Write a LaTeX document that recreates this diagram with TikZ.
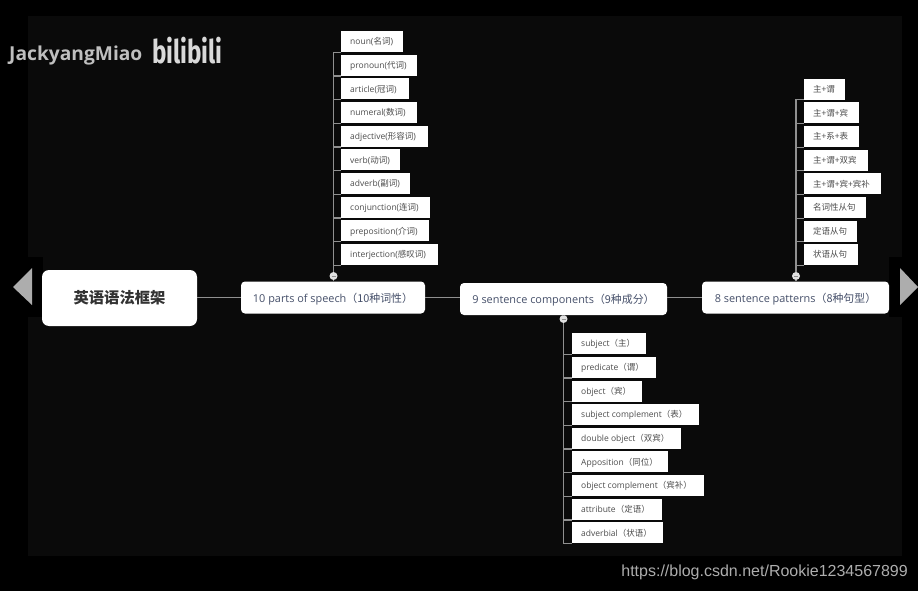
\documentclass[tikz,border=0pt]{standalone}
\usepackage{fontspec}
\setmainfont{Open Sans}
\newfontfamily\cjk{Noto Sans CJK SC}
\newfontfamily\urlfont{Liberation Sans}
\newfontfamily\brandfont{Fira Sans}
\newcommand\zh[1]{{\cjk #1}}
\definecolor{pagebg}{HTML}{000000}
\definecolor{panelbg}{HTML}{0A0A0A}
\definecolor{linkgrey}{HTML}{909090}
\definecolor{leaftext}{HTML}{4C4C4C}
\definecolor{maintext}{HTML}{46506A}
\tikzset{
  leafbox/.style={fill=white,draw=none,inner xsep=9pt,inner ysep=0pt,minimum height=21pt,anchor=north west,text=leaftext,font=\fontsize{8.5}{10}\selectfont},
  mainbox/.style={fill=white,draw=none,rounded corners=4pt,inner sep=0pt,text=maintext,font=\fontsize{10.9}{12}\selectfont},
  link/.style={draw=linkgrey,line width=1.2pt},
  dotnode/.style={circle,fill=white!88!black,draw=none,minimum size=8pt,inner sep=0pt},
  navarrow/.style={fill=white!68!black,draw=none}
}
\newcommand\dn[2]{\raisebox{-#1pt}[0pt][0pt]{#2}}
\begin{document}
\begin{tikzpicture}[x=1pt,y=-1pt]
\useasboundingbox (0,0) rectangle (918,591);
\fill[pagebg] (0,0) rectangle (918,591);
\fill[panelbg] (28,16) rectangle (902,556);
\fill[pagebg] (0,257) rectangle (43,317);
\fill[pagebg] (889,257) rectangle (918,317);
% navigation arrows
\fill[navarrow] (13,287) -- (32,268) -- (32,305) -- cycle;
\fill[navarrow] (918,287) -- (900,268) -- (900,305) -- cycle;
% main nodes
\node[mainbox,minimum width=155pt,minimum height=56pt,rounded corners=7pt,text=black!80,font=\cjk\fontsize{15.3}{17}\selectfont\bfseries] (root) at (119.5,298) {英语语法框架};
\node[mainbox,minimum width=184pt,minimum height=32pt] (parts) at (333,297.5) {\dn{4.5}{10 parts of speech\zh{（10种词性）}}};
\node[mainbox,minimum width=207pt,minimum height=32pt] (comps) at (563.5,299) {\dn{4}{9 sentence components\zh{（9种成分）}}};
\node[mainbox,minimum width=187pt,minimum height=32pt] (pats) at (795.5,297.5) {\dn{4.5}{8 sentence patterns\zh{（8种句型）}}};
\draw[link] (root.east |- parts.west) -- (parts.west);
\draw[link] (parts.east) -- (comps.west |- parts.east);
\draw[link] (comps.east |- pats.west) -- (pats.west);
% collapse dots
\node[dotnode] (dotA) at (333.5,276) {};
\node[dotnode] (dotB) at (563.5,319) {};
\node[dotnode] (dotC) at (796,276) {};
\draw[link] (parts.north -| dotA) -- (dotA);
\draw[link] (comps.south -| dotB) -- (dotB);
\draw[link] (pats.north -| dotC) -- (dotC);
\foreach \d in {dotA,dotB,dotC}{\draw[linkgrey,line width=.7pt] ([xshift=-2pt]\d.center) -- ([xshift=2pt]\d.center);}
% parts of speech
\foreach \i/\r/\t in {0/403/noun(\zh{名词}),1/417/pronoun(\zh{代词}),2/409/article(\zh{冠词}),3/417/numeral(\zh{数词}),4/428/adjective(\zh{形容词}),5/400/verb(\zh{动词}),6/410/adverb(\zh{副词}),7/430/conjunction(\zh{连词}),8/429/preposition(\zh{介词}),9/438/interjection(\zh{感叹词})}{
  \pgfmathsetmacro\tp{31+\i*23.65}
  \pgfmathsetmacro\w{\r-341-18}
  \node[leafbox] (a\i) at (341,\tp) {\makebox[\w pt][l]{\dn{3.2}{\t}}};
  \draw[link] (dotA) |- (a\i.south west);
}
% sentence patterns
\foreach \i/\r/\t in {0/845/\zh{主+谓},1/859/\zh{主+谓+宾},2/859/\zh{主+系+表},3/868/\zh{主+谓+双宾},4/881/\zh{主+谓+宾+宾补},5/866/\zh{名词性从句},6/857/\zh{定语从句},7/858/\zh{状语从句}}{
  \pgfmathsetmacro\tp{78.5+\i*23.65}
  \pgfmathsetmacro\w{\r-804-18}
  \node[leafbox] (c\i) at (804,\tp) {\makebox[\w pt][l]{\dn{3.2}{\t}}};
  \draw[link] (dotC) |- (c\i.south west);
}
% sentence components
\foreach \i/\r/\t in {0/646/subject\zh{（主）},1/656/predicate\zh{（谓）},2/642/object\zh{（宾）},3/699/subject complement\zh{（表）},4/681/double object\zh{（双宾）},5/668/Apposition\zh{（同位）},6/704/object complement\zh{（宾补）},7/662/attribute\zh{（定语）},8/663/adverbial\zh{（状语）}}{
  \pgfmathsetmacro\tp{333+\i*23.65}
  \pgfmathsetmacro\w{\r-572-18}
  \node[leafbox] (b\i) at (572,\tp) {\makebox[\w pt][l]{\dn{3.2}{\t}}};
  \draw[link] (dotB) |- (b\i.south west);
}
% watermarks
\node[anchor=west,inner sep=0pt,text=white!75!black,font=\fontsize{19.2}{21}\selectfont\bfseries] (author) at (9,55.5) {JackyangMiao};
\node[anchor=west,inner sep=0pt,text=white!85!black,font=\brandfont\fontsize{26}{28}\selectfont\bfseries] (brand) at (152,51) {\scalebox{.93}[1.25]{bilibili}};
\node[anchor=east,inner sep=0pt,text=white!68!black,font=\urlfont\fontsize{16}{18}\selectfont] (url) at (908,572.5) {https://blog.csdn.net/Rookie1234567899};
\end{tikzpicture}
\end{document}
